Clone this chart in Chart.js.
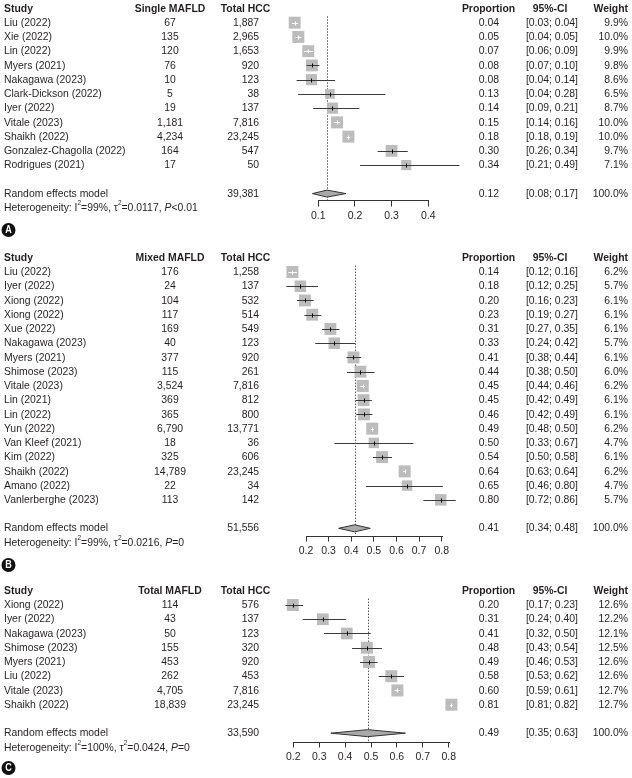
<!DOCTYPE html>
<html>
<head>
<meta charset="utf-8">
<script src="https://cdn.jsdelivr.net/npm/chart.js@4.4.1/dist/chart.umd.min.js"></script>
<style>
html, body { margin: 0; padding: 0; background: #fff; }
#wrap { position: relative; width: 632px; height: 778px; overflow: hidden; }
#wrap canvas { position: absolute; left: 0; top: 0; }
</style>
</head>
<body>
<div id="wrap">
  <canvas id="panelA" width="632" height="778"></canvas>
  <canvas id="panelB" width="632" height="778"></canvas>
  <canvas id="panelC" width="632" height="778"></canvas>
</div>
<script>
// ---------- DATA: panel A (single MAFLD) ----------
const studiesA = ["Liu (2022)", "Xie (2022)", "Lin (2022)", "Myers (2021)", "Nakagawa (2023)", "Clark-Dickson (2022)",
  "Iyer (2022)", "Vitale (2023)", "Shaikh (2022)", "Gonzalez-Chagolla (2022)", "Rodrigues (2021)"];
const eventsA = [67, 135, 120, 76, 10, 5, 19, 1181, 4234, 164, 17];
const totalA = [1887, 2965, 1653, 920, 123, 38, 137, 7816, 23245, 547, 50];
const propA = [0.04, 0.05, 0.07, 0.08, 0.08, 0.13, 0.14, 0.15, 0.18, 0.30, 0.34];
const ciTextA = ["[0.03; 0.04]", "[0.04; 0.05]", "[0.06; 0.09]", "[0.07; 0.10]", "[0.04; 0.14]", "[0.04; 0.28]",
  "[0.09, 0.21]", "[0.14; 0.16]", "[0.18, 0.19]", "[0.26; 0.34]", "[0.21; 0.49]"];
const ciLoA = [0.028, 0.038, 0.061, 0.068, 0.041, 0.045, 0.086, 0.143, 0.177, 0.262, 0.214];
const ciHiA = [0.045, 0.054, 0.086, 0.103, 0.146, 0.283, 0.212, 0.159, 0.187, 0.344, 0.485];
const weightA = [9.9, 10.0, 9.9, 9.8, 8.6, 6.5, 8.7, 10.0, 10.0, 9.7, 7.1];
const pooledA = [0.124, 0.084, 0.175];           // estimate, lower, upper (plotted)
const pooledTextA = ["39,381", "0.12", "[0.08; 0.17]", "100.0%"];
const hetA = ["99%", "0.0117", "<0.01"];
const ticksA = [0.1, 0.2, 0.3, 0.4];

// ---------- DATA: panel B (mixed MAFLD) ----------
const studiesB = ["Liu (2022)", "Iyer (2022)", "Xiong (2022)", "Xiong (2022)", "Xue (2022)", "Nakagawa (2023)",
  "Myers (2021)", "Shimose (2023)", "Vitale (2023)", "Lin (2021)", "Lin (2022)", "Yun (2022)", "Van Kleef (2021)",
  "Kim (2022)", "Shaikh (2022)", "Amano (2022)", "Vanlerberghe (2023)"];
const eventsB = [176, 24, 104, 117, 169, 40, 377, 115, 3524, 369, 365, 6790, 18, 325, 14789, 22, 113];
const totalB = [1258, 137, 532, 514, 549, 123, 920, 261, 7816, 812, 800, 13771, 36, 606, 23245, 34, 142];
const propB = [0.14, 0.18, 0.20, 0.23, 0.31, 0.33, 0.41, 0.44, 0.45, 0.45, 0.46, 0.49, 0.50, 0.54, 0.64, 0.65, 0.80];
const ciTextB = ["[0.12; 0.16]", "[0.12; 0.25]", "[0.16; 0.23]", "[0.19; 0.27]", "[0.27, 0.35]", "[0.24; 0.42]",
  "[0.38; 0.44]", "[0.38; 0.50]", "[0.44; 0.46]", "[0.42; 0.49]", "[0.42; 0.49]", "[0.48; 0.50]", "[0.33; 0.67]",
  "[0.50; 0.58]", "[0.63; 0.64]", "[0.46; 0.80]", "[0.72; 0.86]"];
const ciLoB = [0.121, 0.113, 0.160, 0.193, 0.271, 0.241, 0.379, 0.381, 0.440, 0.419, 0.422, 0.485, 0.326, 0.496, 0.630, 0.465, 0.719];
const ciHiB = [0.160, 0.253, 0.234, 0.268, 0.348, 0.418, 0.444, 0.503, 0.462, 0.491, 0.494, 0.501, 0.675, 0.580, 0.643, 0.805, 0.862];
const weightB = [6.2, 5.7, 6.1, 6.1, 6.1, 5.7, 6.1, 6.0, 6.2, 6.1, 6.1, 6.2, 4.7, 6.1, 6.2, 4.7, 5.7];
const pooledB = [0.415, 0.344, 0.484];
const pooledTextB = ["51,556", "0.41", "[0.34; 0.48]", "100.0%"];
const hetB = ["99%", "0.0216", "=0"];
const ticksB = [0.2, 0.3, 0.4, 0.5, 0.6, 0.7, 0.8];

// ---------- DATA: panel C (total MAFLD) ----------
const studiesC = ["Xiong (2022)", "Iyer (2022)", "Nakagawa (2023)", "Shimose (2023)", "Myers (2021)", "Liu (2022)",
  "Vitale (2023)", "Shaikh (2022)"];
const eventsC = [114, 43, 50, 155, 453, 262, 4705, 18839];
const totalC = [576, 137, 123, 320, 920, 453, 7816, 23245];
const propC = [0.20, 0.31, 0.41, 0.48, 0.49, 0.58, 0.60, 0.81];
const ciTextC = ["[0.17; 0.23]", "[0.24; 0.40]", "[0.32, 0.50]", "[0.43; 0.54]", "[0.46; 0.53]", "[0.53; 0.62]",
  "[0.59; 0.61]", "[0.81; 0.82]"];
const ciLoC = [0.170, 0.236, 0.319, 0.427, 0.458, 0.530, 0.591, 0.805];
const ciHiC = [0.238, 0.404, 0.499, 0.542, 0.526, 0.627, 0.613, 0.815];
const weightC = [12.6, 12.2, 12.1, 12.5, 12.6, 12.6, 12.7, 12.7];
const pooledC = [0.487, 0.345, 0.633];
const pooledTextC = ["33,590", "0.49", "[0.35; 0.63]", "100.0%"];
const hetC = ["100%", "0.0424", "=0"];
const ticksC = [0.2, 0.3, 0.4, 0.5, 0.6, 0.7, 0.8];

// ---------- look ----------
const INK = "#231f20";
const SQUARE = "#bcbcbc";
const CI_LINE = "#3a3a3a";
const MAX_SIDE = 12;
const ROW = 14.24;
const FAMILY = "Liberation Sans";
const FS = 11.5;
const TICK_FS = 10.5;

// squeeze text a little so widths match the (narrow) original face
const measureCtx = document.createElement("canvas").getContext("2d");
measureCtx.font = `${FS}px "${FAMILY}"`;
const SX = 104 / measureCtx.measureText("Random effects model").width;
const font = (w, s, it) => `${it ? "italic " : ""}${w} ${s || FS}px "${FAMILY}"`;

function fmt(n) { return n.toLocaleString("en-US"); }

// --- PANEL ---
function makePanel(id, p) {
    const n = p.studies.length;
    const topPx = p.firstY - 1.5 * ROW;
    const axisIdx = (p.axisY - p.firstY) / ROW;
    const AXH = 30;
    const t0 = p.ticks[0], t1 = p.ticks[p.ticks.length - 1];
    const pxPer = (p.tickPx[1] - p.tickPx[0]) / (t1 - t0);
    const leftPx = p.tickPx[0] - (t0 - p.range[0]) * pxPer;
    const rightPx = p.tickPx[1] + (p.range[1] - t1) * pxPer;
    const maxW = Math.max(...p.weight);
    const side = p.weight.map(w => MAX_SIDE * Math.sqrt(w / maxW));
    const est = p.events.map((e, i) => e / p.total[i]);

    const forest = {
        id: "forest_" + id,
        beforeDatasetsDraw(chart) {
            const xs = chart.scales.x, ys = chart.scales.y, ctx = chart.ctx;
            const x = Math.round(xs.getPixelForValue(p.pooled[0])) + 0.5;
            ctx.save();
            ctx.strokeStyle = "#555";
            ctx.lineWidth = 1;
            ctx.setLineDash([1.5, 1.5]);
            ctx.beginPath();
            ctx.moveTo(x, ys.getPixelForValue(-0.45));
            ctx.lineTo(x, chart.chartArea.bottom);
            ctx.stroke();
            ctx.restore();
        },
        afterDatasetsDraw(chart) {
            const xs = chart.scales.x, ys = chart.scales.y, ctx = chart.ctx;
            ctx.save();
            ctx.lineWidth = 1;
            for (let i = 0; i < n; i++) {
                const y = Math.round(ys.getPixelForValue(i)) + 0.5;
                const xc = xs.getPixelForValue(est[i]);
                const xl = xs.getPixelForValue(p.ciLo[i]);
                const xh = xs.getPixelForValue(p.ciHi[i]);
                const half = side[i] / 2;
                const inside = xl >= xc - half && xh <= xc + half;
                ctx.strokeStyle = inside ? "#fff" : CI_LINE;
                ctx.beginPath();
                ctx.moveTo(xl, y);
                ctx.lineTo(xh, y);
                ctx.stroke();
                ctx.strokeStyle = inside ? "#fff" : "#000";
                ctx.beginPath();
                ctx.moveTo(Math.round(xc) + 0.5, y - 2);
                ctx.lineTo(Math.round(xc) + 0.5, y + 2);
                ctx.stroke();
            }
            // pooled diamond
            const yd = ys.getPixelForValue(n + 1);
            ctx.beginPath();
            ctx.moveTo(xs.getPixelForValue(p.pooled[1]), yd);
            ctx.lineTo(xs.getPixelForValue(p.pooled[0]), yd - 3.5);
            ctx.lineTo(xs.getPixelForValue(p.pooled[2]), yd);
            ctx.lineTo(xs.getPixelForValue(p.pooled[0]), yd + 3.5);
            ctx.closePath();
            ctx.fillStyle = "#a9a9a9";
            ctx.fill();
            ctx.strokeStyle = "#333";
            ctx.stroke();

            // axis line only between the first and last tick
            const ya = Math.round(chart.chartArea.bottom) + 0.5;
            ctx.strokeStyle = "#333";
            ctx.beginPath();
            ctx.moveTo(Math.round(xs.getPixelForValue(t0)), ya);
            ctx.lineTo(Math.round(xs.getPixelForValue(t1)) + 1, ya);
            ctx.stroke();
            ctx.restore();
        },
        afterDraw(chart) {
            const ys = chart.scales.y, ctx = chart.ctx;
            ctx.save();
            ctx.fillStyle = INK;
            ctx.textBaseline = "middle";
            const txt = (s, x, y, align, f) => {
                ctx.save();
                ctx.font = f || font("");
                ctx.textAlign = align;
                ctx.translate(x, y);
                ctx.scale(SX, 1);
                ctx.fillText(s, 0, 0);
                ctx.restore();
            };

            // headers
            const yh = ys.getPixelForValue(-1);
            txt("Study", 4, yh, "left", font("bold"));
            txt(p.eventLabel, 170, yh, "center", font("bold"));
            txt("Total HCC", 245.5, yh, "center", font("bold"));
            txt("Proportion", 488.5, yh, "center", font("bold"));
            txt("95%-CI", 550, yh, "center", font("bold"));
            txt("Weight", 628, yh, "right", font("bold"));

            for (let i = 0; i < n; i++) {
                const y = ys.getPixelForValue(i);
                txt(p.studies[i], 4, y, "left");
                txt(fmt(p.events[i]), 170, y, "center");
                txt(fmt(p.total[i]), 259, y, "right");
                txt(p.prop[i].toFixed(2), 499, y, "right");
                txt(p.ciText[i], 578, y, "right");
                txt(p.weight[i].toFixed(1) + "%", 628, y, "right");
            }

            const yr = ys.getPixelForValue(n + 1);
            txt("Random effects model", 4, yr, "left");
            txt(p.pooledText[0], 259, yr, "right");
            txt(p.pooledText[1], 499, yr, "right");
            txt(p.pooledText[2], 578, yr, "right");
            txt(p.pooledText[3], 628, yr, "right");

            // heterogeneity line with superscripts and italic P
            const yt = ys.getPixelForValue(n + 2);
            const parts = [
                ["Heterogeneity: I", 0], ["2", 1], ["=" + p.het[0] + ", \u03c4", 0], ["2", 1],
                ["=" + p.het[1] + ", ", 0], ["P", 2], [p.het[2], 0]
            ];
            let x = 4;
            for (const [s, kind] of parts) {
                const f = kind === 1 ? font("", FS * 0.62) : font("", FS, kind === 2);
                txt(s, x, kind === 1 ? yt - FS * 0.38 : yt, "left", f);
                ctx.font = f;
                x += ctx.measureText(s).width * SX;
            }

            // panel letter
            ctx.beginPath();
            ctx.arc(8.5, p.letterY, 7, 0, Math.PI * 2);
            ctx.fillStyle = "#111";
            ctx.fill();
            ctx.fillStyle = "#fff";
            txt(p.letter, 8.5, p.letterY + 0.5, "center", font("bold", 10));
            ctx.restore();
        }
    };

    return new Chart(document.getElementById(id), {
        type: "bubble",
        data: {
            datasets: [{
                data: est.map((v, i) => ({ x: v, y: i, r: side[i] / Math.SQRT2 })),
                pointStyle: "rect",
                backgroundColor: SQUARE,
                borderWidth: 0,
                clip: false
            }]
        },
        options: {
            responsive: false,
            animation: false,
            events: [],
            layout: {
                autoPadding: false,
                padding: {
                    left: leftPx,
                    right: 632 - rightPx,
                    top: topPx,
                    bottom: 778 - p.axisY - AXH
                }
            },
            plugins: { legend: { display: false }, tooltip: { enabled: false } },
            scales: {
                x: {
                    type: "linear",
                    min: p.range[0],
                    max: p.range[1],
                    afterBuildTicks: (s) => { s.ticks = p.ticks.map(v => ({ value: v })); },
                    afterFit: (s) => { s.height = AXH; },
                    grid: { drawOnChartArea: false, drawTicks: true, tickLength: 6, color: "#333", lineWidth: 1 },
                    border: { display: false },
                    ticks: {
                        autoSkip: false,
                        maxRotation: 0,
                        padding: 3,
                        color: INK,
                        font: { family: FAMILY, size: TICK_FS },
                        callback: (v) => v.toFixed(1)
                    }
                },
                y: {
                    type: "linear",
                    display: false,
                    reverse: true,
                    min: -1.5,
                    max: axisIdx
                }
            }
        },
        plugins: [forest]
    });
}

makePanel("panelA", {
    studies: studiesA, events: eventsA, total: totalA, prop: propA, ciText: ciTextA,
    ciLo: ciLoA, ciHi: ciHiA, weight: weightA, pooled: pooledA, pooledText: pooledTextA,
    het: hetA, ticks: ticksA, range: [0, 0.5], eventLabel: "Single MAFLD", letter: "A",
    firstY: 22.7, axisY: 200.5, tickPx: [318.3, 428.3], letterY: 230
});
makePanel("panelB", {
    studies: studiesB, events: eventsB, total: totalB, prop: propB, ciText: ciTextB,
    ciLo: ciLoB, ciHi: ciHiB, weight: weightB, pooled: pooledB, pooledText: pooledTextB,
    het: hetB, ticks: ticksB, range: [0.1, 0.9], eventLabel: "Mixed MAFLD", letter: "B",
    firstY: 272, axisY: 535.5, tickPx: [306, 441.7], letterY: 565
});
makePanel("panelC", {
    studies: studiesC, events: eventsC, total: totalC, prop: propC, ciText: ciTextC,
    ciLo: ciLoC, ciHi: ciHiC, weight: weightC, pooled: pooledC, pooledText: pooledTextC,
    het: hetC, ticks: ticksC, range: [0.1, 0.9], eventLabel: "Total MAFLD", letter: "C",
    firstY: 605, axisY: 741.5, tickPx: [293.3, 448.7], letterY: 768
});
</script>
</body>
</html>
